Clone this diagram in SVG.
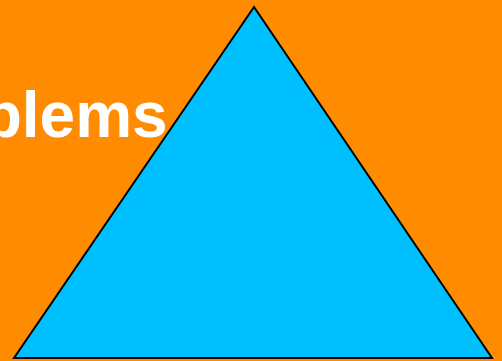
<svg xmlns="http://www.w3.org/2000/svg" width="502" height="361" viewBox="0 0 502 361">
<style>
.title{font-family:"Liberation Sans",Arial,sans-serif;font-weight:bold;font-size:64px;fill:#ffffff}
</style>
<rect x="0" y="0" width="502" height="361" fill="#ff8c00"/>
<g id="title"><text class="title" x="-124" y="137">Problems</text></g>
<g id="triangle"><polygon points="254,7 14,358 492,358" fill="#00bfff" stroke="#000000" stroke-width="2"/></g>
</svg>
